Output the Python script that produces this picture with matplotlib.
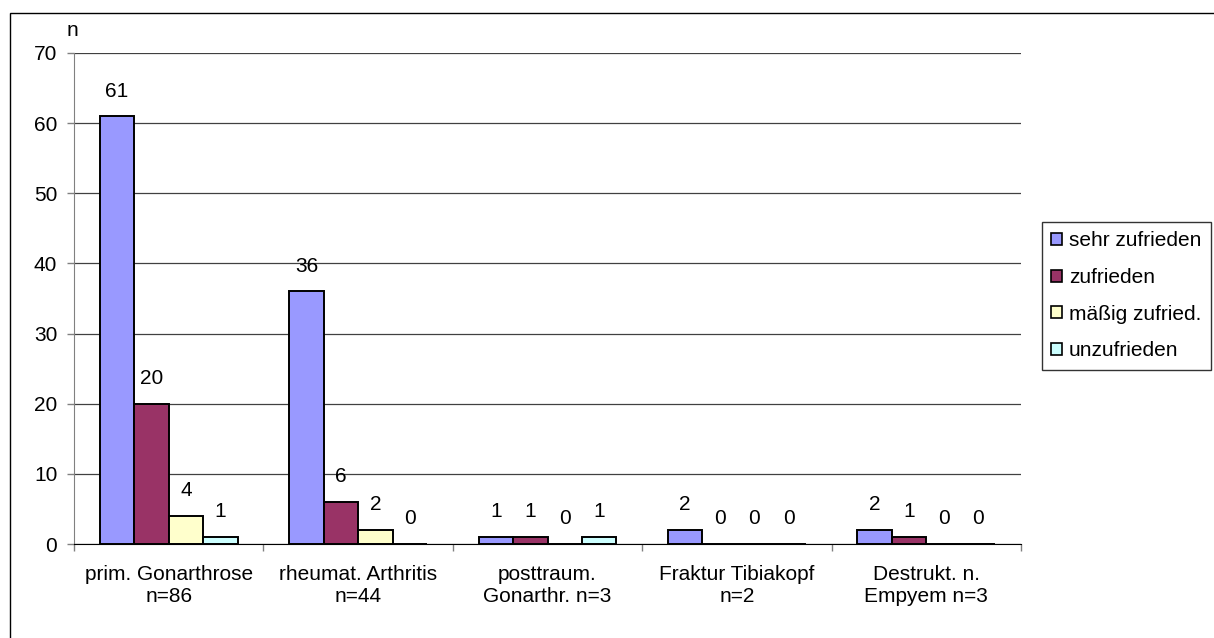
import matplotlib
matplotlib.use("Agg")
import matplotlib.pyplot as plt
from matplotlib.patches import Rectangle, Patch
import numpy as np

plt.rcParams['font.family'] = ['Liberation Sans', 'DejaVu Sans']

categories = ["prim. Gonarthrose\nn=86", "rheumat. Arthritis\nn=44",
              "posttraum.\nGonarthr. n=3", "Fraktur Tibiakopf\nn=2",
              "Destrukt. n.\nEmpyem n=3"]
series_names = ["sehr zufrieden", "zufrieden", "mäßig zufried.", "unzufrieden"]
sehr_zufrieden = [61, 36, 1, 2, 2]
zufrieden = [20, 6, 1, 0, 1]
maessig_zufrieden = [4, 2, 0, 0, 0]
unzufrieden = [1, 0, 1, 0, 0]
series_values = [sehr_zufrieden, zufrieden, maessig_zufrieden, unzufrieden]
colors = ["#9999FF", "#993366", "#FFFFCC", "#CCFFFF"]
y_ticks = [0, 10, 20, 30, 40, 50, 60, 70]

W, H = 1214, 638
fig = plt.figure(figsize=(W / 100, H / 100), dpi=100)
fig.patch.set_facecolor("white")

# chart frame
fig.patches.append(Rectangle((10 / W, -0.05), 1.1, 1 - 13 / H + 0.05,
                             transform=fig.transFigure, fill=False,
                             edgecolor="black", linewidth=1.0, zorder=0))

left, right = 74 / W, 1021 / W
bottom, top = 1 - 544 / H, 1 - 53 / H
ax = fig.add_axes([left, bottom, right - left, top - bottom])

x = np.arange(len(categories))
bw = 0.182
offsets = (np.arange(4) - 1.5) * bw
FS = 15

for vals, off, col in zip(series_values, offsets, colors):
    ax.bar(x + off, vals, width=bw, color=col, edgecolor="black",
           linewidth=1.4, zorder=3)
    for xi, v in zip(x + off, vals):
        ax.annotate(f"{v}", (xi, v), xytext=(0, 18), textcoords="offset points",
                    ha="center", va="center", fontsize=FS, zorder=4)

ax.set_xlim(-0.5, len(categories) - 0.5)
ax.set_ylim(0, 70)
ax.set_yticks(y_ticks)
ax.tick_params(axis="y", length=5, width=1, color="#808080", labelsize=FS, pad=7)
ax.yaxis.grid(True, color="#404040", linewidth=0.9, zorder=1)
ax.set_axisbelow(True)

ax.set_xticks(np.arange(len(categories) + 1) - 0.5)
ax.set_xticklabels([])
ax.tick_params(axis="x", which="major", length=5, width=1, color="#808080")
ax.set_xticks(x, minor=True)
ax.set_xticklabels(categories, minor=True, fontsize=FS, linespacing=1.2)
ax.tick_params(axis="x", which="minor", length=0, pad=15)

for s in ["top", "right"]:
    ax.spines[s].set_visible(False)
ax.spines["left"].set_color("#808080")
ax.spines["bottom"].set_color("black")

fig.text(72 / W, 1 - 30 / H, "n", fontsize=FS, ha="center", va="center")

handles = [Patch(facecolor=c, edgecolor="black", linewidth=1.2) for c in colors]
leg = fig.legend(handles, series_names, loc="upper left",
                 bbox_to_anchor=(1042 / W, 1 - 222 / H), borderaxespad=0,
                 fontsize=FS, frameon=True, fancybox=False, shadow=False,
                 handlelength=0.5, handleheight=0.5, handletextpad=0.35,
                 labelspacing=0.85, borderpad=0.45)
leg.get_frame().set_edgecolor("black")
leg.get_frame().set_linewidth(1.0)

fig.savefig("out.png", dpi=100)
